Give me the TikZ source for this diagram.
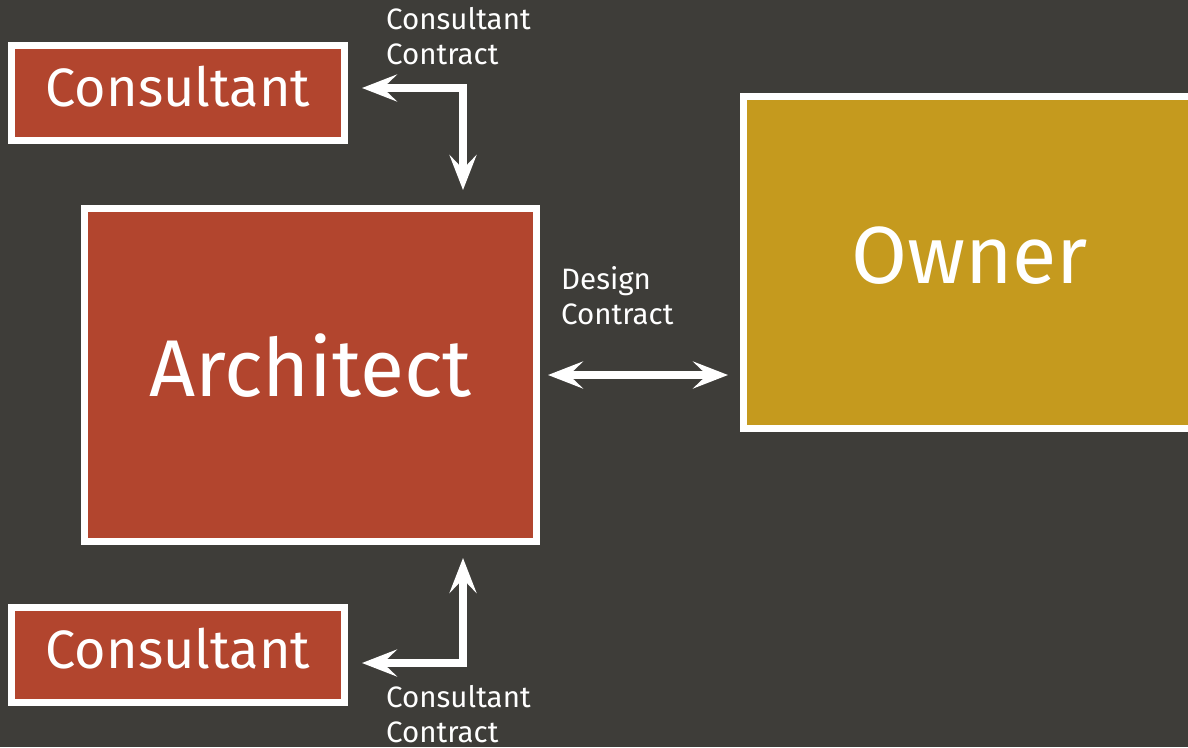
\documentclass[tikz,border=0pt]{standalone}
\usepackage{fontspec}
\setmainfont{Fira Sans}
\usetikzlibrary{arrows.meta}
\definecolor{bg}{HTML}{3E3D39}
\definecolor{brick}{HTML}{B2452E}
\definecolor{gold}{HTML}{C59A1E}
\tikzset{
  party/.style={draw=white, line width=7pt, inner sep=0pt, text=white},
  tip/.tip={Stealth[length=35pt, width=27pt, inset=14pt]},
  contract/.style={draw=white, line width=8pt, tip-tip},
  lbl/.style={text=white, font=\fontsize{29.5}{35}\selectfont, align=left, inner sep=0pt, anchor=north west}
}
\begin{document}
\begin{tikzpicture}[x=1pt, y=-1pt]
\fill[bg] (0,0) rectangle (1188,747);
\useasboundingbox (0,0) rectangle (1188,747);
\node[party, fill=brick, minimum width=333pt, minimum height=95pt, text depth=14pt, font=\fontsize{54}{60}\selectfont] (tc) at (178,93) {Consultant};
\node[party, fill=brick, minimum width=452pt, minimum height=333pt, text depth=20pt, font=\fontsize{80.5}{90}\selectfont] (arch) at (310.5,375) {Architect};
\node[party, fill=gold, minimum width=452pt, minimum height=332pt, text depth=14pt, font=\fontsize{81}{90}\selectfont] (own) at (969.5,262.5) {Owner};
\node[party, fill=brick, minimum width=333pt, minimum height=95pt, text depth=14pt, font=\fontsize{54}{60}\selectfont] (bc) at (178,655) {Consultant};
\coordinate (c1) at (463,88);
\coordinate (c2) at (463,663);
\coordinate (d) at (0,375);
\draw[contract, shorten <=14pt, shorten >=15pt] (tc.east |- c1) -- (c1) -- (c1 |- arch.north);
\draw[contract, shorten <=14pt, shorten >=13pt] (bc.east |- c2) -- (c2) -- (c2 |- arch.south);
\draw[contract, shorten <=8pt, shorten >=12pt] (arch.east |- d) -- (own.west |- d);
\node[lbl] (l1) at (386,7) {Consultant\\Contract};
\node[lbl] (l2) at (561,266) {Design\\Contract};
\node[lbl] (l3) at (386,685) {Consultant\\Contract};
\end{tikzpicture}
\end{document}
